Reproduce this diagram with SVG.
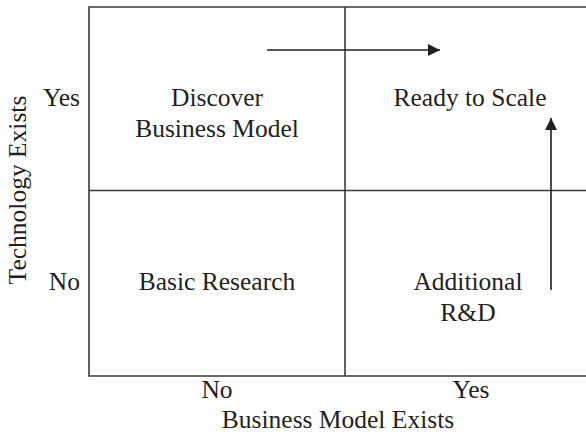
<svg xmlns="http://www.w3.org/2000/svg" width="586" height="435" viewBox="0 0 586 435">
<defs>
<style>
text{font-family:"Liberation Serif","Times New Roman",serif;font-size:25.5px;fill:#231f20;text-anchor:middle}
.end{text-anchor:end}
.grid{stroke:#3a3a3a;stroke-width:1.6;fill:none}
.arr{stroke:#231f20;stroke-width:1.6;fill:none}
</style>
<marker id="ah2" viewBox="0 0 12 12" refX="12" refY="6" markerWidth="12" markerHeight="12" markerUnits="userSpaceOnUse" orient="auto">
<path d="M0,0 L12,6 L0,12 z" fill="#231f20"/>
</marker>
</defs>
<g id="grid">
<path class="grid" d="M586,7 H89 V376 H586"/>
<path class="grid" d="M345,7 V376"/>
<path class="grid" d="M89,190.5 H586"/>
</g>
<g id="axes">
<text class="end" x="80" y="106">Yes</text>
<text class="end" x="80" y="290">No</text>
<text x="217" y="398">No</text>
<text x="471" y="398">Yes</text>
<text x="338" y="428">Business Model Exists</text>
<text transform="translate(26,190) rotate(-90)">Technology Exists</text>
</g>
<g id="discover">
<text x="217" y="106">Discover</text>
<text x="217" y="137">Business Model</text>
</g>
<g id="ready">
<text x="470" y="106">Ready to Scale</text>
</g>
<g id="basic">
<text x="217" y="290">Basic Research</text>
</g>
<g id="additional">
<text x="468" y="290">Additional</text>
<text x="468" y="321">R&amp;D</text>
</g>
<g id="connectors">
<line class="arr" x1="267" y1="50" x2="440" y2="50" marker-end="url(#ah2)"/>
<line class="arr" x1="551" y1="290" x2="551" y2="118" marker-end="url(#ah2)"/>
</g>
</svg>
